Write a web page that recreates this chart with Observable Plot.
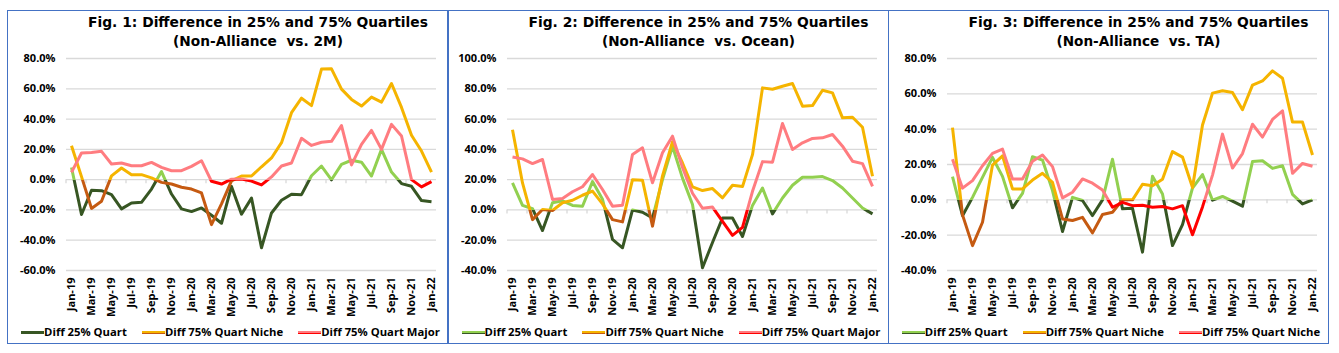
<!DOCTYPE html>
<html>
<head>
<meta charset="utf-8">
<script src="https://cdn.jsdelivr.net/npm/d3@7"></script>
<script src="https://cdn.jsdelivr.net/npm/@observablehq/plot@0.6"></script>
<style>
  html, body { margin: 0; padding: 0; background: #fff; }
  #root { position: relative; width: 1339px; height: 353px; overflow: hidden; background: #fff; font-family: "Open Sans", Lato, sans-serif; }
  .panel { position: absolute; top: 10px; width: 441px; height: 334px; }
  .border { position: absolute; left: 0; top: 0; width: 441px; height: 334px; border: 1.5px solid #4472C4; box-sizing: border-box; pointer-events: none; }
  .title { position: absolute; top: 1.5px; left: 0; width: 502px; text-align: center; font-weight: 700; color: #000; font-family: "DejaVu Sans", Verdana, sans-serif; }
  .title div { height: 19px; line-height: 19px; }
  .title span { display: inline-block; font-size: 14.5px; line-height: 19px; white-space: pre; }
  .chart { position: absolute; top: 37px; left: 0; }
  .legend { position: absolute; top: 314px; left: 0; width: 447px; height: 16px; display: flex; justify-content: center; align-items: center; font-weight: 700; font-size: 11.3px; line-height: 16px; color: #000; white-space: nowrap; }
  .item { display: flex; align-items: center; margin: 0 7.5px; }
  .sw { display: inline-block; width: 23px; height: 3px; }
</style>
</head>
<body>
<div id="root"></div>
<script>
// ---------- data ----------
const months = ["Jan-19","Feb-19","Mar-19","Apr-19","May-19","Jun-19","Jul-19","Aug-19","Sep-19","Oct-19","Nov-19","Dec-19",
  "Jan-20","Feb-20","Mar-20","Apr-20","May-20","Jun-20","Jul-20","Aug-20","Sep-20","Oct-20","Nov-20","Dec-20",
  "Jan-21","Feb-21","Mar-21","Apr-21","May-21","Jun-21","Jul-21","Aug-21","Sep-21","Oct-21","Nov-21","Dec-21","Jan-22"];

// Fig. 1: Non-Alliance vs. 2M (percent)
const q25_2M   = [8, -23, -7, -7.3, -9.9, -19.3, -15.4, -15, -6.2, 5.3, -9.5, -19.3, -21.1, -18.7, -23.5, -28.8, -4.5, -22.8, -12.2, -45, -22, -13.6, -9.7, -9.9, 2.6, 9, -0.1, 10.1, 12.8, 11.5, 2.4, 20, 5, -2.6, -4.4, -13.8, -14.6];
const niche_2M = [22.4, 2, -19, -14.3, 2.5, 7.7, 3.3, 3.3, 1.2, -1.8, -2.9, -5, -6.2, -8.8, -29.7, -16, -0.8, 2.4, 2.4, 8.5, 14.3, 24.4, 44.2, 53.8, 48.9, 73, 73.2, 59.8, 53, 48.6, 54.5, 51.2, 63.5, 47.7, 29.3, 18.9, 5];
const major_2M = [4.8, 17.6, 18, 18.7, 10.3, 11, 9.2, 9.2, 11.4, 8.1, 5.9, 5.9, 8.8, 12.5, -1.1, -2.9, 0.3, 0.4, -1, -3.5, 1.8, 9, 11, 27.3, 22.6, 24.7, 25.3, 35.7, 9.7, 23.3, 32.5, 20, 36.5, 28.8, 0, -4.8, -1.3];

// Fig. 2: Non-Alliance vs. Ocean (percent)
const q25_oc   = [17.8, 3, 0.8, -13.6, 4.8, 6, 3, 2.4, 18.7, 7, -19.5, -25, 0, -1.5, -5.3, 20, 42, 21, 3.6, -38.2, -21.5, -5.3, -5.3, -17.5, 3, 14.5, -2.6, 7.9, 16.3, 21.6, 21.6, 22, 19.4, 14.5, 7.9, 1.3, -2.6];
const niche_oc = [53, 17.8, -6.4, 0.3, -0.4, 4.7, 6.4, 9.7, 12.4, 4, -6.4, -7.9, 20, 19.6, -10.7, 22.5, 45, 31, 15.2, 12.8, 14.1, 8, 16.3, 15.4, 36.5, 80.6, 79.7, 81.7, 83.5, 68.5, 68.9, 79, 77.3, 60.8, 61.2, 54.6, 22.2];
const major_oc = [35, 33.7, 30.6, 33.3, 6.9, 7.6, 12, 15.3, 23.4, 13.5, 2.5, 3.1, 36.6, 41, 17.9, 37.7, 48.7, 28, 11, 1.1, 1.9, -7.5, -16.8, -11.5, 12.3, 31.9, 31.5, 57.1, 39.9, 44.3, 47.2, 47.6, 49.8, 42.1, 32.2, 30.6, 15.6];

// Fig. 3: Non-Alliance vs. TA (percent)
const q25_ta   = [13.1, -9, 1.4, 12.7, 24, 13.3, -4.5, 3.7, 24.4, 22.5, 5.2, -17.9, 1.4, -0.4, -8.9, 0, 23, -5.1, -4.8, -29.6, 13.4, 3.3, -25.9, -14, 6.7, 14.3, -0.2, 1.9, -0.7, -3.6, 21.7, 22.1, 17.8, 19.3, 3.1, -2.3, 0];
const niche_ta = [40.9, -8.5, -25.9, -12.7, 19.7, 24.9, 6.2, 6.2, 11.2, 15, 9.9, -10.8, -11.7, -9.9, -18.7, -8.3, -7, 0, 0, 8.8, 8, 11.6, 27.3, 24.2, 7, 42.4, 60.4, 61.7, 60.8, 51, 64.9, 67.3, 73, 68.8, 44, 44, 25.4];
const major_ta = [23, 6.6, 10.9, 19.3, 26.3, 28.7, 11.8, 11.8, 21.8, 25.4, 18.8, 1.1, 4.3, 11.8, 9.4, 5.6, -4.2, -1.4, -3.3, -3.1, -4.2, -3.8, -5.1, -3.3, -19.8, -4, 14, 37.2, 18, 26.2, 42.8, 35.5, 45.5, 50.4, 15, 20.6, 19];

const ticks_2M = [-60, -40, -20, 0, 20, 40, 60, 80];
const ticks_oc = [-40, -20, 0, 20, 40, 60, 80, 100];
const ticks_ta = [-40, -20, 0, 20, 40, 60, 80];

const titles = [
  ["Fig. 1: Difference in 25% and 75% Quartiles", "(Non-Alliance  vs. 2M)"],
  ["Fig. 2: Difference in 25% and 75% Quartiles", "(Non-Alliance  vs. Ocean)"],
  ["Fig. 3: Difference in 25% and 75% Quartiles", "(Non-Alliance  vs. TA)"]
];
const legendLabels = [
  ["Diff 25% Quart", "Diff 75% Quart Niche", "Diff 75% Quart Major"],
  ["Diff 25% Quart", "Diff 75% Quart Niche", "Diff 75% Quart Major"],
  ["Diff 25% Quart", "Diff 75% Quart Niche", "Diff 75% Quart Niche"]
];

// colors: [positive, negative]
const seriesColors = [
  ["#92D050", "#375623"],
  ["#F5B400", "#C55A11"],
  ["#FF7C80", "#FF0000"]
];

const panels = [
  {left: 7,     series: [q25_2M, niche_2M, major_2M], ticks: ticks_2M, titleW: [340, 170]},
  {left: 447.5, series: [q25_oc, niche_oc, major_oc], ticks: ticks_oc, titleW: [340, 193]},
  {left: 887.5, series: [q25_ta, niche_ta, major_ta], ticks: ticks_ta, titleW: [340, 164]}
];

const NS = "http://www.w3.org/2000/svg";
const root = document.getElementById("root");
const titleSpans = [];

panels.forEach((p, pi) => {
  const panel = document.createElement("div");
  panel.className = "panel";
  panel.style.left = p.left + "px";
  root.appendChild(panel);

  const title = document.createElement("div");
  title.className = "title";
  titles[pi].forEach((t, li) => {
    const d = document.createElement("div");
    const s = document.createElement("span");
    s.textContent = t;
    d.appendChild(s);
    title.appendChild(d);
    titleSpans.push([s, p.titleW[li]]);
  });
  panel.appendChild(title);

  const gid = (si) => `grad-${pi}-${si}`;

  // gradient definitions built from the y scale: positive colour above 0, negative below
  const defsMark = (index, scales, values, dims) => {
    const defs = document.createElementNS(NS, "defs");
    const y0 = scales.y(0);
    const H = dims.height;
    const f = y0 / H;
    seriesColors.forEach((c, si) => {
      const lg = document.createElementNS(NS, "linearGradient");
      lg.setAttribute("id", gid(si));
      lg.setAttribute("gradientUnits", "userSpaceOnUse");
      lg.setAttribute("x1", 0); lg.setAttribute("x2", 0);
      lg.setAttribute("y1", 0); lg.setAttribute("y2", H);
      [[0, c[0]], [f, c[0]], [f, c[1]], [1, c[1]]].forEach(([o, col]) => {
        const s = document.createElementNS(NS, "stop");
        s.setAttribute("offset", o);
        s.setAttribute("stop-color", col);
        lg.appendChild(s);
      });
      defs.appendChild(lg);
    });
    return defs;
  };

  // small tick marks on the zero line, every second category boundary
  const zeroTicks = (index, scales) => {
    const g = document.createElementNS(NS, "g");
    const step = scales.x(months[1]) - scales.x(months[0]);
    const y0 = scales.y(0);
    for (let k = 0; k <= months.length; k += 2) {
      const xx = (k < months.length ? scales.x(months[k]) : scales.x(months[months.length - 1]) + step) - step / 2;
      const l = document.createElementNS(NS, "line");
      l.setAttribute("x1", xx); l.setAttribute("x2", xx);
      l.setAttribute("y1", y0); l.setAttribute("y2", y0 + 4);
      l.setAttribute("stroke", "#D9D9D9");
      l.setAttribute("stroke-width", 1.3);
      g.appendChild(l);
    }
    return g;
  };

  const lineMarks = p.series.map((vals, si) =>
    Plot.line(months.map((m, i) => ({month: m, value: vals[i]})), {
      x: "month", y: "value",
      stroke: `url(#${gid(si)})`,
      strokeWidth: 3,
      strokeLinejoin: "round",
      strokeLinecap: "butt"
    })
  );

  const chart = Plot.plot({
    width: 441,
    height: 272,
    marginLeft: 59,
    marginRight: 12,
    marginTop: 11,
    marginBottom: 49,
    style: {fontFamily: "'Open Sans', Lato, sans-serif", fontSize: "11px", fontWeight: "bold", color: "#000", background: "transparent", overflow: "visible"},
    x: {type: "point", domain: months, padding: 0.5, label: null, tickSize: 0, tickPadding: 7, tickRotate: -90,
        tickFormat: d => months.indexOf(d) % 2 === 0 ? d : ""},
    y: {domain: [p.ticks[0], p.ticks[p.ticks.length - 1]], ticks: p.ticks, label: null, tickSize: 0, tickPadding: 11,
        tickFormat: d => d.toFixed(1) + "%"},
    marks: [
      defsMark,
      Plot.ruleY(p.ticks, {stroke: "#D9D9D9", strokeWidth: 1.3}),
      zeroTicks,
      ...lineMarks
    ]
  });
  chart.classList.add("chart");
  panel.appendChild(chart);

  const legend = document.createElement("div");
  legend.className = "legend";
  legend.innerHTML = legendLabels[pi].map((lab, si) => {
    const c = seriesColors[si];
    const top = (pi === 0 && si === 0) ? c[1] : c[0];
    return `<span class="item"><span class="sw" style="background:linear-gradient(to bottom, ${top} 0 2px, ${c[1]} 2px 3px)"></span>${lab}</span>`;
  }).join("");
  panel.appendChild(legend);

  const border = document.createElement("div");
  border.className = "border";
  panel.appendChild(border);
});

function fitTitles() {
  titleSpans.forEach(([s, target]) => {
    const w = s.getBoundingClientRect().width;
    if (w > 0) {
      const fs = parseFloat(getComputedStyle(s).fontSize);
      s.style.fontSize = Math.min(15.5, fs * target / w).toFixed(2) + "px";
    }
  });
}
fitTitles();
if (document.fonts && document.fonts.ready) document.fonts.ready.then(fitTitles);
</script>
</body>
</html>
